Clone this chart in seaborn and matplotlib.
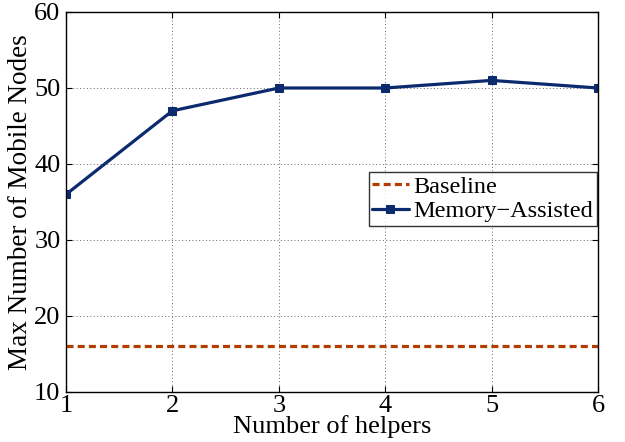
import seaborn as sns
import matplotlib.pyplot as plt

# Data
helpers = [1, 2, 3, 4, 5, 6]
baseline = [16, 16, 16, 16, 16, 16]
memory_assisted = [36, 47, 50, 50, 51, 50]

sns.set_style('white')
plt.rcParams['font.family'] = ['Liberation Serif', 'DejaVu Serif']
plt.rcParams['text.color'] = 'black'
plt.rcParams['axes.labelcolor'] = 'black'
plt.rcParams['xtick.color'] = 'black'
plt.rcParams['ytick.color'] = 'black'

fig = plt.figure(figsize=(6.25, 4.42), dpi=100)
ax = fig.add_axes([66 / 625, 1 - 392 / 442, (598 - 66) / 625, (392 - 12) / 442])

sns.lineplot(x=helpers, y=baseline, ax=ax, color='#b33c00', linestyle=(0, (2.2, 1.3)),
             linewidth=2.3, label='Baseline')
sns.lineplot(x=helpers, y=memory_assisted, ax=ax, color='#0c2a6e', linewidth=2.3,
             marker='s', markersize=6, markeredgecolor='#0c2a6e', label='Memory\u2212Assisted')

ax.set_xlim(1, 6)
ax.set_ylim(10, 60)
ax.set_xticks(helpers)
ax.set_yticks([10, 20, 30, 40, 50, 60])
ax.grid(True, linestyle=(0, (1, 2.5)), color='#666666', linewidth=0.7)
for s in ax.spines.values():
    s.set_color('black')
    s.set_linewidth(1.0)
ax.tick_params(axis='both', labelsize=19, direction='in', length=4, color='black',
               labelcolor='black', top=True, right=True, bottom=True, left=True, pad=2)
ax.tick_params(axis='y', pad=4)

ax.set_xlabel('Number of helpers', fontsize=19, labelpad=-1)
ax.set_ylabel('Max Number of Mobile Nodes', fontsize=19.5, labelpad=1)

leg = ax.legend(loc='upper right', bbox_to_anchor=(0.998, 0.579), fontsize=17.5,
                frameon=True, fancybox=False, handlelength=1.5, handletextpad=0.2,
                borderpad=0.15, labelspacing=0.1, borderaxespad=0)
leg.get_frame().set_edgecolor('black')
leg.get_frame().set_linewidth(1.0)

fig.savefig('out.png', dpi=100)
